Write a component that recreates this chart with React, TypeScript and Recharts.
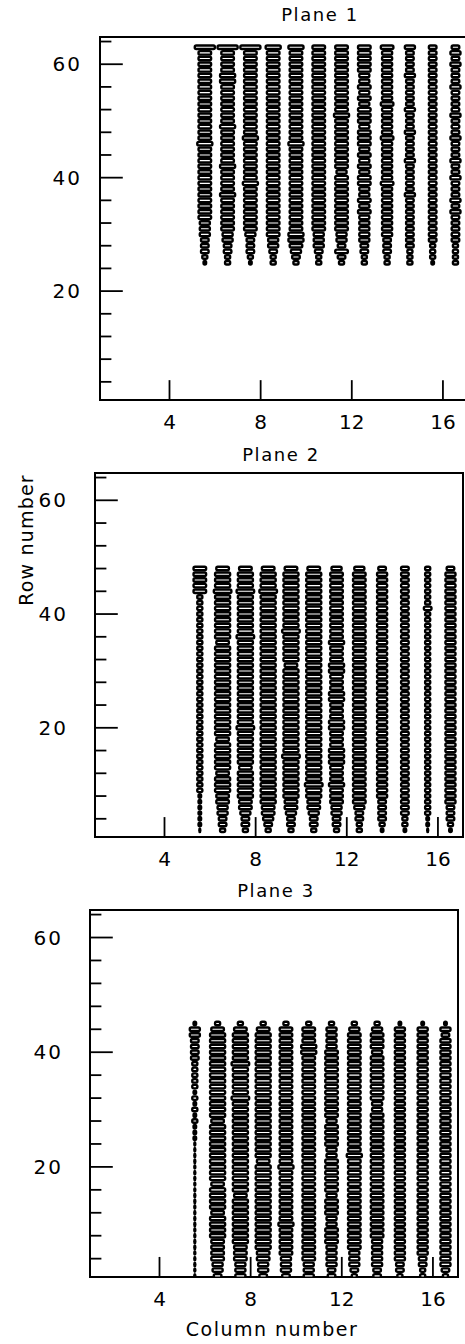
import { ReferenceArea, ReferenceLine, Scatter, ScatterChart, XAxis, YAxis } from "recharts"

// column numbers, each drawn at its bin centre
const COLS = [5, 6, 7, 8, 9, 10, 11, 12, 13, 14, 15, 16]
const X_TICKS = [4, 8, 12, 16]
const Y_LABELS = [20, 40, 60]
const Y_TICKS = [4, 8, 12, 16, 20, 24, 28, 32, 36, 40, 44, 48, 52, 56, 60, 64]

// box widths per column, one digit per row, lowest row first
const PLANE1_FIRST_ROW = 25
const PLANE1 = [
  "2344455566" + "6666666666" + "6766666666" + "666666669",
  "3344556666" + "6676666766" + "6666766666" + "667766669",
  "2344456666" + "6666766666" + "6676666666" + "666666669",
  "3345566666" + "6666666666" + "6666666666" + "666666667",
  "3456776666" + "6666666666" + "6766666666" + "666666667",
  "3345556666" + "6666666666" + "6666666666" + "666666666",
  "3464556666" + "6666665666" + "6666667666" + "666666666",
  "3344555556" + "5655665656" + "5666566656" + "565566666",
  "3344455555" + "5555655555" + "5565555565" + "555555556",
  "3334444444" + "4454444454" + "4445444544" + "444544445",
  "2333444444" + "4444444444" + "4444444444" + "444444444",
  "3333444445" + "4544454454" + "4454445444" + "454445454",
]

const PLANE2_FIRST_ROW = 2
const PLANE2 = [
  "1222222333" + "3333333333" + "3333333333" + "3333333333" + "3366666",
  "3445566777" + "6777776777" + "7777777777" + "7776777777" + "7787776",
  "3445667777" + "7677777787" + "7777777777" + "7777877777" + "7787776",
  "3456677777" + "7777777777" + "7777777777" + "7777777777" + "7787776",
  "3445667777" + "7778777777" + "7777777776" + "7777787777" + "7777776",
  "3445667787" + "7777777777" + "7777777777" + "7777777777" + "7777776",
  "3445566676" + "6677766677" + "6667766677" + "6667666666" + "6666665",
  "3344566666" + "6666666666" + "6666666666" + "6666666666" + "6666665",
  "2344445555" + "5555555555" + "5555555555" + "5555555555" + "5555554",
  "2334444444" + "4444444444" + "4444444444" + "4444444444" + "4444444",
  "1223333333" + "3333333333" + "3333333333" + "3333333334" + "3333333",
  "2344455555" + "5555555555" + "5555555555" + "5555555555" + "5555554",
]

const PLANE3_FIRST_ROW = 1
const PLANE3 = [
  "1111111111" + "1111111111" + "1111222323" + "2323333344" + "44552",
  "4556666777" + "7677776777" + "7777777677" + "7777777777" + "77763",
  "5556667777" + "7777677777" + "7777777777" + "7877777877" + "77763",
  "4556677777" + "7777777777" + "6777777777" + "7777777777" + "77763",
  "4555666667" + "6666666667" + "6666666666" + "6666666666" + "66663",
  "5556666666" + "6666666666" + "6666666666" + "6666666667" + "76663",
  "4455556665" + "5666566666" + "6556666566" + "6666666666" + "55553",
  "3455566666" + "6666666666" + "6766666666" + "6666666666" + "66653",
  "4455555666" + "6666666666" + "6666666665" + "5666666665" + "66653",
  "3445555555" + "5555555555" + "5555555555" + "5555555555" + "55552",
  "3344555555" + "5555555555" + "5555555555" + "5555555555" + "55552",
  "3455555555" + "5555555555" + "5555555555" + "5555555555" + "55452",
]

const X_DOMAIN: [number, number] = [0.95, 17.1]
const Y_DOMAIN: [number, number] = [0.8, 64.8]
const font = "DejaVu Sans"

function toPoints(cols: string[], firstRow: number) {
  const pts: { x: number; y: number; w: number }[] = []
  cols.forEach((s, i) => {
    s.split("").forEach((ch, j) => {
      const w = Number(ch)
      if (w > 0) pts.push({ x: COLS[i] + 0.55, y: firstRow + j, w })
    })
  })
  return pts
}

function Box(props: any) {
  const { cx, cy, payload } = props
  const w = Math.max(payload.w * 2.5 - 2.4, 1)
  const h = 3.5
  const solid = payload.w <= 2
  return (
    <rect
      x={cx - w / 2}
      y={cy - h / 2}
      width={w}
      height={h}
      rx={1.5}
      fill={solid ? "#000" : "#fff"}
      stroke="#000"
      strokeWidth={2.4}
    />
  )
}

function Panel({ data, left, top, plotH, labelGap }: { data: any[]; left: number; top: number; plotH: number; labelGap: number }) {
  const plotW = 368
  return (
    <div style={{ position: "absolute", left: 0, top: top - 10 }}>
      <ScatterChart width={left + plotW + 2} height={plotH + 50} margin={{ top: 10, right: 2, bottom: 0, left: 0 }}>
        <XAxis
          type="number"
          dataKey="x"
          domain={X_DOMAIN}
          ticks={X_TICKS}
          height={40}
          axisLine={false}
          tickLine={false}
          tickSize={0}
          tickMargin={15}
          tick={{ fill: "#000", fontSize: 20, fontFamily: font }}
          allowDataOverflow
        />
        <YAxis
          type="number"
          dataKey="y"
          domain={Y_DOMAIN}
          ticks={Y_LABELS}
          width={left}
          axisLine={false}
          tickLine={false}
          tickSize={0}
          tickMargin={labelGap}
          tick={{ fill: "#000", fontSize: 20, fontFamily: font, letterSpacing: 2 }}
          allowDataOverflow
        />
        <ReferenceArea
          x1={X_DOMAIN[0]}
          x2={X_DOMAIN[1]}
          y1={Y_DOMAIN[0]}
          y2={Y_DOMAIN[1]}
          fill="none"
          stroke="#000"
          strokeWidth={2}
          ifOverflow="visible"
        />
        {Y_TICKS.map((t) => (
          <ReferenceLine
            key={"y" + t}
            segment={[
              { x: X_DOMAIN[0], y: t },
              { x: X_DOMAIN[0] + (t % 20 === 0 ? 1.0 : 0.5), y: t },
            ]}
            stroke="#000"
            strokeWidth={1.8}
          />
        ))}
        {X_TICKS.map((t) => (
          <ReferenceLine
            key={"x" + t}
            segment={[
              { x: t, y: Y_DOMAIN[0] },
              { x: t, y: Y_DOMAIN[0] + 3.5 },
            ]}
            stroke="#000"
            strokeWidth={1.8}
          />
        ))}
        <Scatter data={data} shape={Box} isAnimationActive={false} />
      </ScatterChart>
    </div>
  )
}

function Title({ text, cx, cy }: { text: string; cx: number; cy: number }) {
  return (
    <div
      style={{
        position: "absolute",
        left: cx - 100,
        top: cy - 11,
        width: 200,
        lineHeight: "22px",
        textAlign: "center",
        fontFamily: font,
        fontSize: 18,
        letterSpacing: 1.6,
      }}
    >
      {text}
    </div>
  )
}

export default function App() {
  return (
    <div
      style={{
        position: "absolute",
        left: 0,
        top: 0,
        width: 465,
        height: 1344,
        overflow: "hidden",
        background: "#fff",
      }}
    >
      <Title text="Plane 1" cx={320} cy={15} />
      <Panel data={toPoints(PLANE1, PLANE1_FIRST_ROW)} left={100} top={37} plotH={363} labelGap={18} />
      <Title text="Plane 2" cx={281} cy={455} />
      <Panel data={toPoints(PLANE2, PLANE2_FIRST_ROW)} left={95} top={473} plotH={364} labelGap={27} />
      <Title text="Plane 3" cx={276} cy={891} />
      <Panel data={toPoints(PLANE3, PLANE3_FIRST_ROW)} left={90} top={910} plotH={367} labelGap={27} />
      <div
        style={{
          position: "absolute",
          left: 26 - 100,
          top: 540 - 11,
          width: 200,
          lineHeight: "22px",
          textAlign: "center",
          transform: "rotate(-90deg)",
          fontFamily: font,
          fontSize: 19,
          letterSpacing: 1.2,
        }}
      >
        Row number
      </div>
      <div
        style={{
          position: "absolute",
          left: 272 - 120,
          top: 1329 - 11,
          width: 240,
          lineHeight: "22px",
          textAlign: "center",
          fontFamily: font,
          fontSize: 19,
          letterSpacing: 1.5,
        }}
      >
        Column number
      </div>
    </div>
  )
}
